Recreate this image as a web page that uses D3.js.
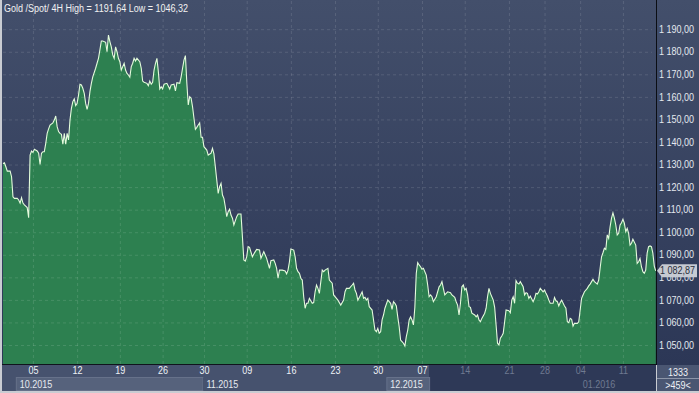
<!DOCTYPE html>
<html>
<head>
<meta charset="utf-8">
<script src="https://cdn.jsdelivr.net/npm/d3@7"></script>
<style>
  html, body { margin: 0; padding: 0; background: #c9ccd2; }
  svg { display: block; }
  text { font-family: "Liberation Sans", Arial, sans-serif; }
</style>
</head>
<body>
<svg id="chart" width="699" height="393"></svg>
<script>
// 4H closes: [bar index, price]
const closes = [
  [0,1130.5],[1,1130.8],[2,1129.0],[3,1127.1],[5,1127.1],[6,1124.6],[7,1115.7],[8,1115.0],[10,1115.0],
  [11,1114.3],[12,1112.9],[13,1115.3],[14,1112.9],[15,1112.1],[17,1110.9],[18,1106.4],[19,1134.2],
  [20,1136.0],[21,1135.4],[22,1136.8],[24,1136.0],[25,1135.0],[26,1130.1],[27,1135.0],[28,1135.7],
  [29,1135.7],[30,1139.4],[31,1143.8],[32,1145.8],[33,1147.5],[35,1148.5],[36,1149.7],[37,1151.5],
  [38,1146.8],[39,1144.6],[40,1143.8],[41,1143.4],[42,1139.0],[43,1143.8],[44,1139.0],[45,1143.8],
  [46,1140.9],[47,1149.7],[48,1154.9],[49,1157.9],[50,1159.1],[51,1156.1],[52,1157.1],[53,1160.8],
  [54,1165.6],[55,1165.3],[56,1163.8],[57,1161.6],[58,1157.1],[59,1154.5],[60,1157.1],[61,1162.3],
  [62,1166.0],[63,1168.9],[65,1172.7],[66,1174.9],[67,1177.1],[68,1180.8],[69,1184.8],[70,1184.8],
  [72,1184.2],[73,1180.0],[74,1187.4],[75,1184.5],[76,1182.2],[77,1178.6],[78,1177.1],[79,1182.2],
  [80,1180.0],[81,1177.1],[82,1175.6],[83,1171.9],[84,1173.4],[85,1174.9],[86,1171.9],[87,1170.4],
  [88,1169.7],[89,1168.7],[90,1173.4],[91,1174.9],[92,1177.1],[93,1175.9],[94,1177.1],[96,1175.6],
  [97,1172.7],[98,1167.0],[99,1166.5],[101,1166.0],[102,1165.0],[103,1167.0],[104,1165.6],[105,1166.5],
  [106,1171.9],[107,1174.9],[108,1177.1],[109,1171.2],[110,1163.5],[111,1164.5],[112,1163.5],[113,1165.6],
  [115,1166.0],[117,1163.5],[118,1165.3],[120,1165.6],[121,1162.7],[122,1166.3],[124,1166.0],[125,1168.9],
  [126,1172.7],[127,1176.3],[128,1178.3],[129,1166.0],[130,1156.4],[131,1160.1],[132,1159.4],[133,1155.6],
  [134,1150.5],[135,1145.6],[136,1146.5],[137,1147.5],[138,1148.5],[139,1142.1],[140,1142.1],[141,1137.9],
  [143,1136.4],[144,1134.2],[146,1135.0],[147,1137.2],[148,1134.7],[149,1129.0],[150,1123.1],[151,1117.2],
  [152,1120.2],[153,1121.7],[154,1116.5],[155,1115.0],[156,1111.3],[157,1106.9],[158,1109.1],[159,1110.2],
  [160,1107.6],[161,1106.2],[162,1103.2],[164,1106.9],[165,1108.1],[167,1108.1],[168,1098.0],[169,1087.7],
  [170,1087.2],[171,1089.1],[172,1093.6],[173,1093.3],[175,1089.1],[176,1090.3],[177,1091.4],[178,1092.4],
  [180,1092.1],[181,1088.4],[183,1091.4],[184,1089.9],[185,1088.4],[186,1086.2],[187,1084.0],[188,1087.4],
  [190,1087.7],[191,1086.2],[192,1084.0],[193,1079.6],[194,1083.2],[196,1083.2],[198,1082.8],[199,1081.5],
  [200,1083.2],[201,1086.9],[202,1092.6],[204,1092.1],[205,1089.1],[206,1084.0],[207,1082.5],[208,1081.8],
  [209,1079.6],[210,1078.8],[211,1071.4],[212,1066.3],[213,1068.5],[214,1068.5],[215,1070.7],[217,1068.5],
  [218,1068.8],[219,1073.6],[220,1076.6],[221,1075.1],[222,1072.9],[224,1083.2],[225,1082.5],[226,1083.2],
  [228,1084.0],[229,1078.8],[231,1077.4],[232,1072.2],[234,1070.7],[235,1069.9],[237,1067.7],[239,1069.9],
  [240,1073.6],[241,1075.1],[243,1075.1],[245,1076.6],[246,1077.4],[247,1074.4],[248,1072.9],[249,1069.9],
  [250,1071.1],[252,1073.6],[253,1070.7],[254,1071.1],[255,1069.9],[256,1070.7],[257,1067.0],[259,1065.5],
  [260,1061.1],[261,1056.6],[262,1055.9],[263,1057.4],[264,1055.2],[265,1055.9],[266,1061.1],[267,1063.3],
  [268,1066.3],[270,1069.9],[271,1069.2],[272,1068.5],[273,1065.8],[274,1069.2],[275,1068.5],[276,1067.3],
  [277,1062.5],[278,1058.1],[279,1052.2],[280,1051.5],[281,1050.8],[282,1049.6],[283,1053.7],[284,1056.6],
  [285,1061.1],[286,1062.5],[287,1061.1],[288,1058.9],[289,1066.7],[290,1081.8],[291,1086.5],[292,1085.5],
  [293,1084.7],[294,1083.6],[295,1084.0],[297,1081.0],[298,1076.6],[299,1071.4],[300,1072.2],[301,1071.4],
  [302,1069.2],[304,1071.4],[305,1073.6],[306,1075.8],[307,1076.6],[308,1078.1],[309,1075.1],[310,1072.2],
  [312,1073.6],[314,1073.2],[315,1072.2],[317,1071.1],[318,1069.2],[319,1067.7],[320,1063.3],[321,1068.5],
  [322,1075.8],[323,1076.6],[324,1074.4],[325,1075.1],[326,1072.2],[327,1067.0],[328,1066.7],[329,1064.1],
  [331,1063.3],[332,1062.5],[333,1063.3],[334,1061.1],[335,1060.3],[336,1061.8],[338,1064.1],[339,1066.3],
  [340,1071.4],[341,1075.1],[342,1072.9],[344,1069.9],[345,1066.7],[346,1058.9],[347,1050.8],[348,1050.0],
  [349,1053.0],[350,1054.0],[351,1055.2],[352,1060.3],[353,1065.5],[355,1065.2],[356,1064.3],[357,1069.9],
  [358,1071.4],[359,1068.5],[360,1078.5],[361,1077.4],[362,1077.0],[363,1078.1],[365,1075.8],[366,1072.2],
  [367,1073.2],[368,1072.9],[369,1070.7],[370,1071.7],[372,1069.2],[373,1070.7],[374,1072.9],[375,1072.6],
  [376,1073.6],[377,1075.1],[379,1073.6],[380,1074.4],[381,1072.9],[382,1071.7],[383,1069.9],[384,1068.5],
  [386,1068.5],[387,1071.1],[388,1069.6],[389,1069.2],[390,1067.3],[391,1068.8],[392,1069.9],[394,1067.3],
  [395,1066.3],[396,1060.3],[397,1059.9],[398,1061.8],[399,1061.4],[400,1058.4],[401,1059.6],[403,1059.6],
  [404,1060.3],[405,1065.5],[406,1070.7],[407,1072.2],[408,1073.6],[410,1075.1],[411,1076.2],[412,1077.0],
  [413,1078.1],[414,1079.1],[415,1078.1],[417,1077.0],[418,1078.8],[419,1084.0],[420,1089.1],[421,1090.9],
  [422,1092.9],[423,1092.4],[424,1098.8],[425,1097.3],[426,1102.4],[427,1106.2],[428,1108.6],[429,1106.2],
  [430,1103.2],[431,1098.8],[432,1099.5],[433,1103.2],[434,1104.2],[435,1105.7],[436,1104.0],[437,1100.2],
  [438,1101.7],[439,1099.5],[440,1094.3],[441,1095.1],[442,1096.9],[444,1094.3],[445,1086.2],[446,1086.9],
  [447,1088.4],[448,1084.7],[449,1082.5],[450,1081.8],[451,1083.2],[452,1090.7],[453,1093.6],[454,1093.9],
  [455,1093.6],[456,1090.7],[457,1085.0],[458,1082.87]
];

const priceTicks = [1050, 1060, 1070, 1080, 1090, 1100, 1110, 1120, 1130, 1140, 1150, 1160, 1170, 1180, 1190];
const dayTicks = [21, 52, 82, 112, 141, 171, 202, 233, 263, 294, 324, 355, 380, 405, 435];
const dayLabels = ["05", "12", "19", "26", "30", "09", "16", "23", "30", "07", "14", "21", "28", "04", "11"];
const monthStarts = [9, 140, 269, 404];
const monthLabels = ["10.2015", "11.2015", "12.2015", "01.2016"];
const title = "Gold /Spot/ 4H High = 1191,64 Low = 1046,32";
const lastPrice = 1082.87;
const totalBars = 1333, shownBars = 459;
const navStart = 299; // start of darker navigator span

const width = 699, height = 393,
  plotLeft = 3, plotRight = 656, plotBottom = 364,
  fs = 10;

const svg = d3.select("#chart");

const x = d3.scaleLinear().domain([0, shownBars - 1]).range([plotLeft, 655.7]);
const y = d3.scaleLinear().domain([1050, 1190]).range([345, 29.2]);

const loc = d3.formatLocale({ decimal: ",", thousands: " ", grouping: [3], currency: ["", ""] });
const fmt = loc.format(",.2f");

// the terminal font is a narrow sans, squeeze the glyphs to match
function narrow(sel) {
  sel.each(function () {
    const w = this.getComputedTextLength();
    d3.select(this).attr("textLength", w * 0.9).attr("lengthAdjust", "spacingAndGlyphs");
  });
}

// backgrounds
const defs = svg.append("defs");
const grad = defs.append("linearGradient").attr("id", "bg").attr("x1", 0).attr("x2", 0).attr("y1", 0).attr("y2", 1);
grad.append("stop").attr("offset", "0%").attr("stop-color", "#434f6b");
grad.append("stop").attr("offset", "100%").attr("stop-color", "#2c3756");

svg.append("rect").attr("width", width).attr("height", height).attr("fill", "#c9ccd2");
svg.append("rect").attr("x", 2).attr("y", 0).attr("width", width - 2).attr("height", plotBottom + 1).attr("fill", "url(#bg)");

// area + line
const area = d3.area()
  .x((d) => x(d[0]))
  .y0(plotBottom)
  .y1((d) => y(d[1]));
const line = d3.line()
  .x((d) => x(d[0]))
  .y((d) => y(d[1]));

svg.append("path").datum(closes).attr("d", area).attr("fill", "#2d8050");
svg.append("path").datum(closes).attr("d", line)
  .attr("fill", "none").attr("stroke", "#e4fbdc").attr("stroke-width", 1.1);

// grid
const gy = svg.append("g")
  .attr("transform", `translate(${plotLeft},0)`)
  .call(d3.axisLeft(y).tickValues(priceTicks).tickSize(-(652 - plotLeft)).tickFormat(""));
gy.select(".domain").remove();
gy.selectAll("line").attr("stroke", "#ffffff").attr("stroke-opacity", 0.12).attr("stroke-dasharray", "3,3");

const gx = svg.append("g")
  .attr("transform", `translate(0,${plotBottom})`)
  .call(d3.axisBottom(x).tickValues(dayTicks).tickSize(-plotBottom).tickFormat(""));
gx.select(".domain").remove();
gx.selectAll("line").attr("stroke", "#ffffff").attr("stroke-opacity", 0.12).attr("stroke-dasharray", "3,3");

// title
svg.append("text").attr("x", 4).attr("y", 12)
  .attr("fill", "#f2f2f2").attr("font-size", fs).text(title)
  .call(narrow);

// bottom strip
svg.append("rect").attr("x", 2).attr("y", plotBottom + 1).attr("width", plotRight - 2).attr("height", 26).attr("fill", "#46526e");
svg.append("line").attr("x1", 2).attr("x2", plotRight).attr("y1", plotBottom + 0.5).attr("y2", plotBottom + 0.5).attr("stroke", "#10141c");

const monthEnds = monthStarts.slice(1).concat([shownBars - 1]);
const months = svg.append("g");
months.selectAll("rect")
  .data(monthStarts.filter((d) => d < navStart))
  .join("rect")
  .attr("x", (d) => x(d) + 0.5)
  .attr("y", 377.5)
  .attr("width", (d, i) => Math.min(x(monthEnds[i]), x(navStart)) - x(d))
  .attr("height", 13)
  .attr("fill", (d, i) => (i % 2 === 0 ? "#56627c" : "#46526e"))
  .attr("stroke", (d, i) => (i % 2 === 0 ? "#66718a" : "none"));

// navigator overlay
svg.append("rect").attr("x", x(navStart)).attr("y", plotBottom + 1)
  .attr("width", plotRight - x(navStart)).attr("height", 26).attr("fill", "#2e3957");

months.raise();
months.selectAll("text")
  .data(monthStarts)
  .join("text")
  .attr("x", (d) => x(d) + 4)
  .attr("y", 388)
  .attr("font-size", fs)
  .attr("fill", (d) => (d >= navStart ? "#6f7a91" : "#e6eaf0"))
  .text((d, i) => monthLabels[i])
  .call(narrow);

const xa = svg.append("g")
  .attr("transform", `translate(0,${plotBottom})`)
  .call(d3.axisBottom(x).tickValues(dayTicks).tickSize(0).tickPadding(3).tickFormat((d, i) => dayLabels[i]));
xa.select(".domain").remove();
xa.selectAll("text")
  .attr("font-size", fs)
  .attr("font-family", null)
  .attr("fill", (d) => (d >= navStart ? "#6f7a91" : "#eef1f5"))
  .call(narrow);

// right axis
svg.append("line").attr("x1", plotRight + 0.5).attr("x2", plotRight + 0.5).attr("y1", 0).attr("y2", plotBottom + 1).attr("stroke", "#0b0e14");
const ya = svg.append("g")
  .attr("transform", `translate(${plotRight},0)`)
  .call(d3.axisRight(y).tickValues(priceTicks).tickSize(0).tickPadding(3).tickFormat(fmt));
ya.select(".domain").remove();
ya.selectAll("text").attr("font-size", fs).attr("font-family", null).attr("fill", "#e4e8ef")
  .call(narrow);

// last price tag
const ty = y(lastPrice);
svg.append("path")
  .attr("d", `M${plotRight + 1},${ty} L${plotRight + 6},${ty - 6.5} H${width - 2} V${ty + 6.5} H${plotRight + 6} Z`)
  .attr("fill", "#c6cad2");
svg.append("text").attr("x", plotRight + 4).attr("y", ty + 3.5)
  .attr("font-size", fs).attr("fill", "#2a2f3b").text(fmt(lastPrice))
  .call(narrow);

// bottom right info cell
svg.append("rect").attr("x", plotRight + 1).attr("y", plotBottom + 1).attr("width", width - plotRight - 1).attr("height", 26).attr("fill", "#4a5672");
svg.append("line").attr("x1", plotRight + 1).attr("x2", width).attr("y1", 378.5).attr("y2", 378.5).attr("stroke", "#8c95a8");
svg.append("text").attr("x", 678).attr("y", 376).attr("text-anchor", "middle")
  .attr("font-size", fs).attr("fill", "#eef1f5").text(totalBars).call(narrow);
svg.append("text").attr("x", 678).attr("y", 389).attr("text-anchor", "middle")
  .attr("font-size", fs).attr("fill", "#eef1f5").text(`>${shownBars}<`).call(narrow);
</script>
</body>
</html>
